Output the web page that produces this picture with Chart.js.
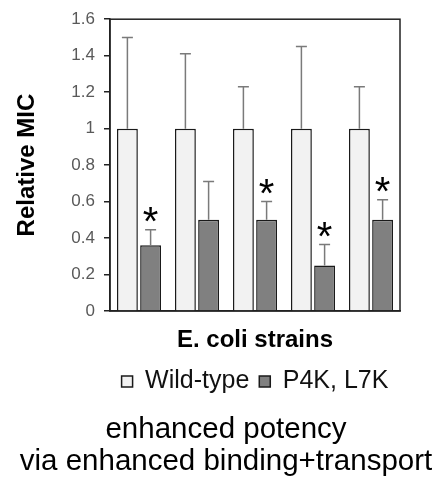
<!DOCTYPE html>
<html>
<head>
<meta charset="utf-8">
<script src="https://cdn.jsdelivr.net/npm/chart.js@4.4.1/dist/chart.umd.min.js"></script>
<style>
  html, body { margin: 0; padding: 0; background: #fff; }
  #wrap { position: relative; width: 442px; height: 485px; }
  #chart { display: block; }
  #caption {
    position: absolute; left: 0; top: 412px; width: 452px;
    text-align: center; color: #000;
    font-family: 'Liberation Sans', Arial, sans-serif;
    font-size: 29.5px; line-height: 32px;
  }
</style>
</head>
<body>
<div id="wrap">
  <canvas id="chart" width="442" height="485"></canvas>
  <div id="caption"></div>
</div>
<script>
// data
const strains = ['1', '2', '3', '4', '5'];
const seriesNames = ['Wild-type', 'P4K, L7K'];
const wildType = [1, 1, 1, 1, 1];
const wildTypeErr = [0.5, 0.41, 0.23, 0.45, 0.23];
const mutant = [0.36, 0.5, 0.5, 0.25, 0.5];
const mutantErr = [0.085, 0.21, 0.1, 0.115, 0.11];
const significant = [true, false, true, true, true];
const yTicks = [0, 0.2, 0.4, 0.6, 0.8, 1, 1.2, 1.4, 1.6];
const captionLines = ['enhanced potency', 'via enhanced binding+transport'];

const FONT = "'Liberation Sans', Arial, sans-serif";

// caption under the chart
const cap = document.getElementById('caption');
captionLines.forEach(function(line) {
    const d = document.createElement('div');
    d.textContent = line;
    cap.appendChild(d);
});

// error bars (upper only) + asterisks
const errorBarPlugin = {
    id: 'errorBars',
    beforeDatasetsDraw(chart) {
        const a = chart.chartArea;
        const ctx = chart.ctx;
        ctx.save();
        ctx.strokeStyle = '#222';
        ctx.lineWidth = 1.5;
        ctx.strokeRect(a.left, a.top, a.right - a.left, a.bottom - a.top);
        ctx.restore();
    },
    afterDatasetsDraw(chart) {
        const ctx = chart.ctx;
        const yScale = chart.scales.y;
        const errs = [wildTypeErr, mutantErr];
        ctx.save();
        ctx.strokeStyle = '#7a7a7a';
        ctx.lineWidth = 1.5;
        chart.data.datasets.forEach(function(ds, di) {
            const meta = chart.getDatasetMeta(di);
            meta.data.forEach(function(bar, i) {
                const top = yScale.getPixelForValue(ds.data[i] + errs[di][i]);
                ctx.beginPath();
                ctx.moveTo(bar.x, bar.y);
                ctx.lineTo(bar.x, top);
                ctx.moveTo(bar.x - 5.5, top);
                ctx.lineTo(bar.x + 5.5, top);
                ctx.stroke();

                if (di === 1 && significant[i]) {
                    ctx.fillStyle = '#000';
                    ctx.font = '40px ' + FONT;
                    ctx.textAlign = 'center';
                    ctx.textBaseline = 'alphabetic';
                    const m = ctx.measureText('*');
                    const cy = top - 15;
                    const base = cy + (m.actualBoundingBoxAscent - m.actualBoundingBoxDescent) / 2;
                    ctx.fillText('*', bar.x, base);
                }
            });
        });
        ctx.restore();
    }
};

new Chart(document.getElementById('chart'), {
    type: 'bar',
    data: {
        labels: strains,
        datasets: [{
            label: seriesNames[0],
            data: wildType,
            backgroundColor: '#f2f2f2',
            borderColor: '#1a1a1a',
            borderWidth: 1.5,
            barPercentage: 0.9,
            categoryPercentage: 0.8
        }, {
            label: seriesNames[1],
            data: mutant,
            backgroundColor: '#808080',
            borderColor: '#1a1a1a',
            borderWidth: 1.5,
            barPercentage: 0.9,
            categoryPercentage: 0.8
        }]
    },
    options: {
        responsive: false,
        animation: false,
        layout: { padding: { top: 16, right: 42, bottom: 81, left: 0 } },
        plugins: {
            tooltip: { enabled: false },
            legend: {
                position: 'bottom',
                fullSize: false,
                labels: {
                    boxWidth: 11,
                    boxHeight: 11,
                    padding: 10,
                    color: '#111',
                    font: { family: FONT, size: 25 }
                }
            },
            title: { display: false }
        },
        scales: {
            x: {
                ticks: { display: false },
                grid: { display: false },
                border: { display: true, color: '#222', width: 1.5 },
                title: {
                    display: true,
                    text: 'E. coli strains',
                    color: '#000',
                    padding: { top: 4, bottom: 4 },
                    font: { family: FONT, size: 24, weight: 'bold' }
                },
                afterFit: function(scale) { scale.height = 48; }
            },
            y: {
                min: 0,
                max: 1.6,
                afterBuildTicks: function(scale) {
                    scale.ticks = yTicks.map(v => ({ value: v }));
                },
                ticks: {
                    color: '#595959',
                    padding: 9,
                    font: { family: FONT, size: 17 },
                    callback: v => String(Math.round(v * 10) / 10)
                },
                grid: { display: true, drawOnChartArea: false, drawTicks: true, tickLength: 6, color: '#222', lineWidth: 1.5 },
                border: { display: true, color: '#222', width: 1.5 },
                title: {
                    display: true,
                    text: 'Relative MIC',
                    color: '#000',
                    padding: { top: 13, bottom: 0 },
                    font: { family: FONT, size: 24, weight: 'bold' }
                },
                afterFit: function(scale) { scale.width = 110; }
            }
        }
    },
    plugins: [errorBarPlugin]
});
</script>
</body>
</html>
